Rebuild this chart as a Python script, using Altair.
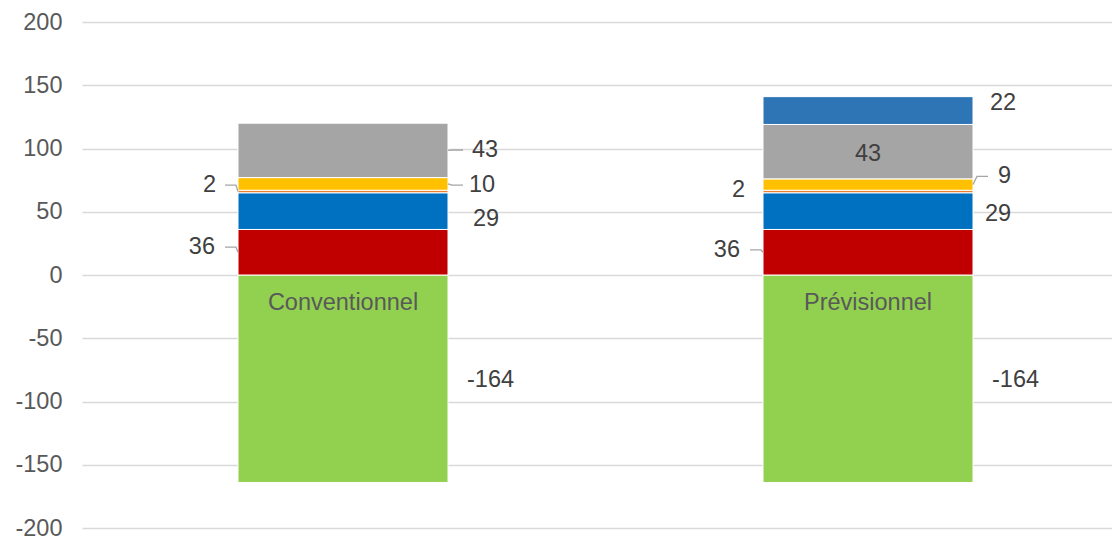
import altair as alt
import pandas as pd

# ---------------- data ----------------
categories = ["Conventionnel", "Prévisionnel"]
series_names = ["vert", "rouge", "bleu", "orange", "jaune", "gris", "bleu foncé"]
green = [-164, -164]
red = [36, 36]
blue = [29, 29]
orange = [2, 2]
yellow = [10, 9]
gray = [43, 43]
dark_blue = [0, 22]
series_colors = ["#92D050", "#C00000", "#0070C0", "#ED7D31", "#FFC000", "#A5A5A5", "#2E75B6"]
y_ticks = [-200, -150, -100, -50, 0, 50, 100, 150, 200]

# data labels (category index, series, text, label centre in data units)
lab_cat = [0, 0, 0, 0, 0, 0, 1, 1, 1, 1, 1, 1, 1]
lab_series = ["vert", "rouge", "bleu", "orange", "jaune", "gris",
              "vert", "rouge", "bleu", "orange", "jaune", "gris", "bleu foncé"]
lab_text = ["-164", "36", "29", "2", "10", "43",
            "-164", "36", "29", "2", "9", "43", "22"]
lab_y = [-83, 22, 43.9, 71, 71, 98.8, -83, 19.8, 48.6, 66.8, 77.9, 96, 135.6]
# style: horizontal pixel offset of each label from the bar centre, and leader flag
lab_dx = [124, -128, 130, -127, 126, 129, 124, -128, 117, -123, 130, 0, 122]
lab_leader = [False, True, False, True, True, True,
              False, True, False, False, True, False, False]
cat_label_y = -22

# ---------------- layout ----------------
W, H = 1030, 506
ppu = 525.0                  # pixels per x unit (distance between bar centres)
x_min = -261 / ppu
x_max = x_min + W / ppu
half_bar = 105 / ppu
FONT = "Liberation Sans"

# ---------------- build tables ----------------
values = [green, red, blue, orange, yellow, gray, dark_blue]
rows = []
for ci, cat in enumerate(categories):
    pos = 0.0
    for si, name in enumerate(series_names):
        v = values[si][ci]
        if v == 0:
            continue
        if v < 0:
            y0, y1 = v, 0
        else:
            y0, y1 = pos, pos + v
            pos += v
        rows.append({"cat": cat, "idx": ci, "series": name, "x0": ci - half_bar,
                     "x1": ci + half_bar, "y0": y0, "y1": y1, "mid": (y0 + y1) / 2})
bars = pd.DataFrame(rows)

labels = pd.DataFrame({
    "idx": lab_cat, "series": lab_series, "text": lab_text, "y": lab_y,
    "dx": lab_dx, "leader": lab_leader,
})
labels["x"] = labels["idx"] + labels["dx"] / ppu
labels["side"] = labels["dx"].apply(lambda d: "r" if d < 0 else ("c" if d == 0 else "l"))

lead_rows = []
for i, r in labels.iterrows():
    if not r["leader"]:
        continue
    mid = bars[(bars["idx"] == r["idx"]) & (bars["series"] == r["series"])]["mid"].iloc[0]
    if r["dx"] < 0:
        pts = [(-118, r["y"]), (-107, r["y"]), (-105, mid)]
    else:
        pts = [(105, mid), (109, r["y"]), (120, r["y"])]
    for k, (px, yy) in enumerate(pts):
        lead_rows.append({"id": i, "k": k, "x": r["idx"] + px / ppu, "y": yy})
leaders = pd.DataFrame(lead_rows)

cats = pd.DataFrame({"cat": categories, "idx": list(range(len(categories))),
                     "y": [cat_label_y] * len(categories)})

# ---------------- chart ----------------
xs = alt.Scale(domain=[x_min, x_max], nice=False, zero=False)
ys = alt.Scale(domain=[-200, 200], nice=False, zero=False)

bar_layer = alt.Chart(bars).mark_rect(stroke="white", strokeWidth=1).encode(
    x=alt.X("x0:Q", scale=xs, axis=None),
    x2="x1:Q",
    y=alt.Y("y0:Q", scale=ys, axis=alt.Axis(
        values=y_ticks, grid=True, gridColor="#D9D9D9", gridWidth=1.3,
        domain=False, ticks=False, labelPadding=20, labelFontSize=23.5,
        labelColor="#595959", labelFont=FONT, title=None,
        labelExpr="toString(datum.value)")),
    y2="y1:Q",
    color=alt.Color("series:N", scale=alt.Scale(domain=series_names, range=series_colors),
                    legend=None),
)

lead_layer = alt.Chart(leaders).mark_line(color="#A5A5A5", strokeWidth=1.3).encode(
    x=alt.X("x:Q", scale=xs, axis=None),
    y=alt.Y("y:Q", scale=ys),
    detail="id:N",
    order="k:O",
)

def text_layer(side, align):
    return alt.Chart(labels).transform_filter(alt.datum.side == side).mark_text(
        align=align, baseline="middle", font=FONT, fontSize=23.5, color="#404040"
    ).encode(
        x=alt.X("x:Q", scale=xs, axis=None),
        y=alt.Y("y:Q", scale=ys),
        text="text:N",
    )

cat_layer = alt.Chart(cats).mark_text(
    align="center", baseline="middle", font=FONT, fontSize=23.5, color="#595959"
).encode(
    x=alt.X("idx:Q", scale=xs, axis=None),
    y=alt.Y("y:Q", scale=ys),
    text="cat:N",
)

chart = alt.layer(
    bar_layer, lead_layer, text_layer("l", "left"), text_layer("r", "right"),
    text_layer("c", "center"), cat_layer,
).properties(
    width=W, height=H,
    autosize=alt.AutoSizeParams(type="none"),
    padding={"left": 74, "top": 14, "right": 0, "bottom": 10},
    background="white",
).configure_view(stroke=None)

chart.save("out.html", embed_options={"renderer": "svg", "actions": False})
